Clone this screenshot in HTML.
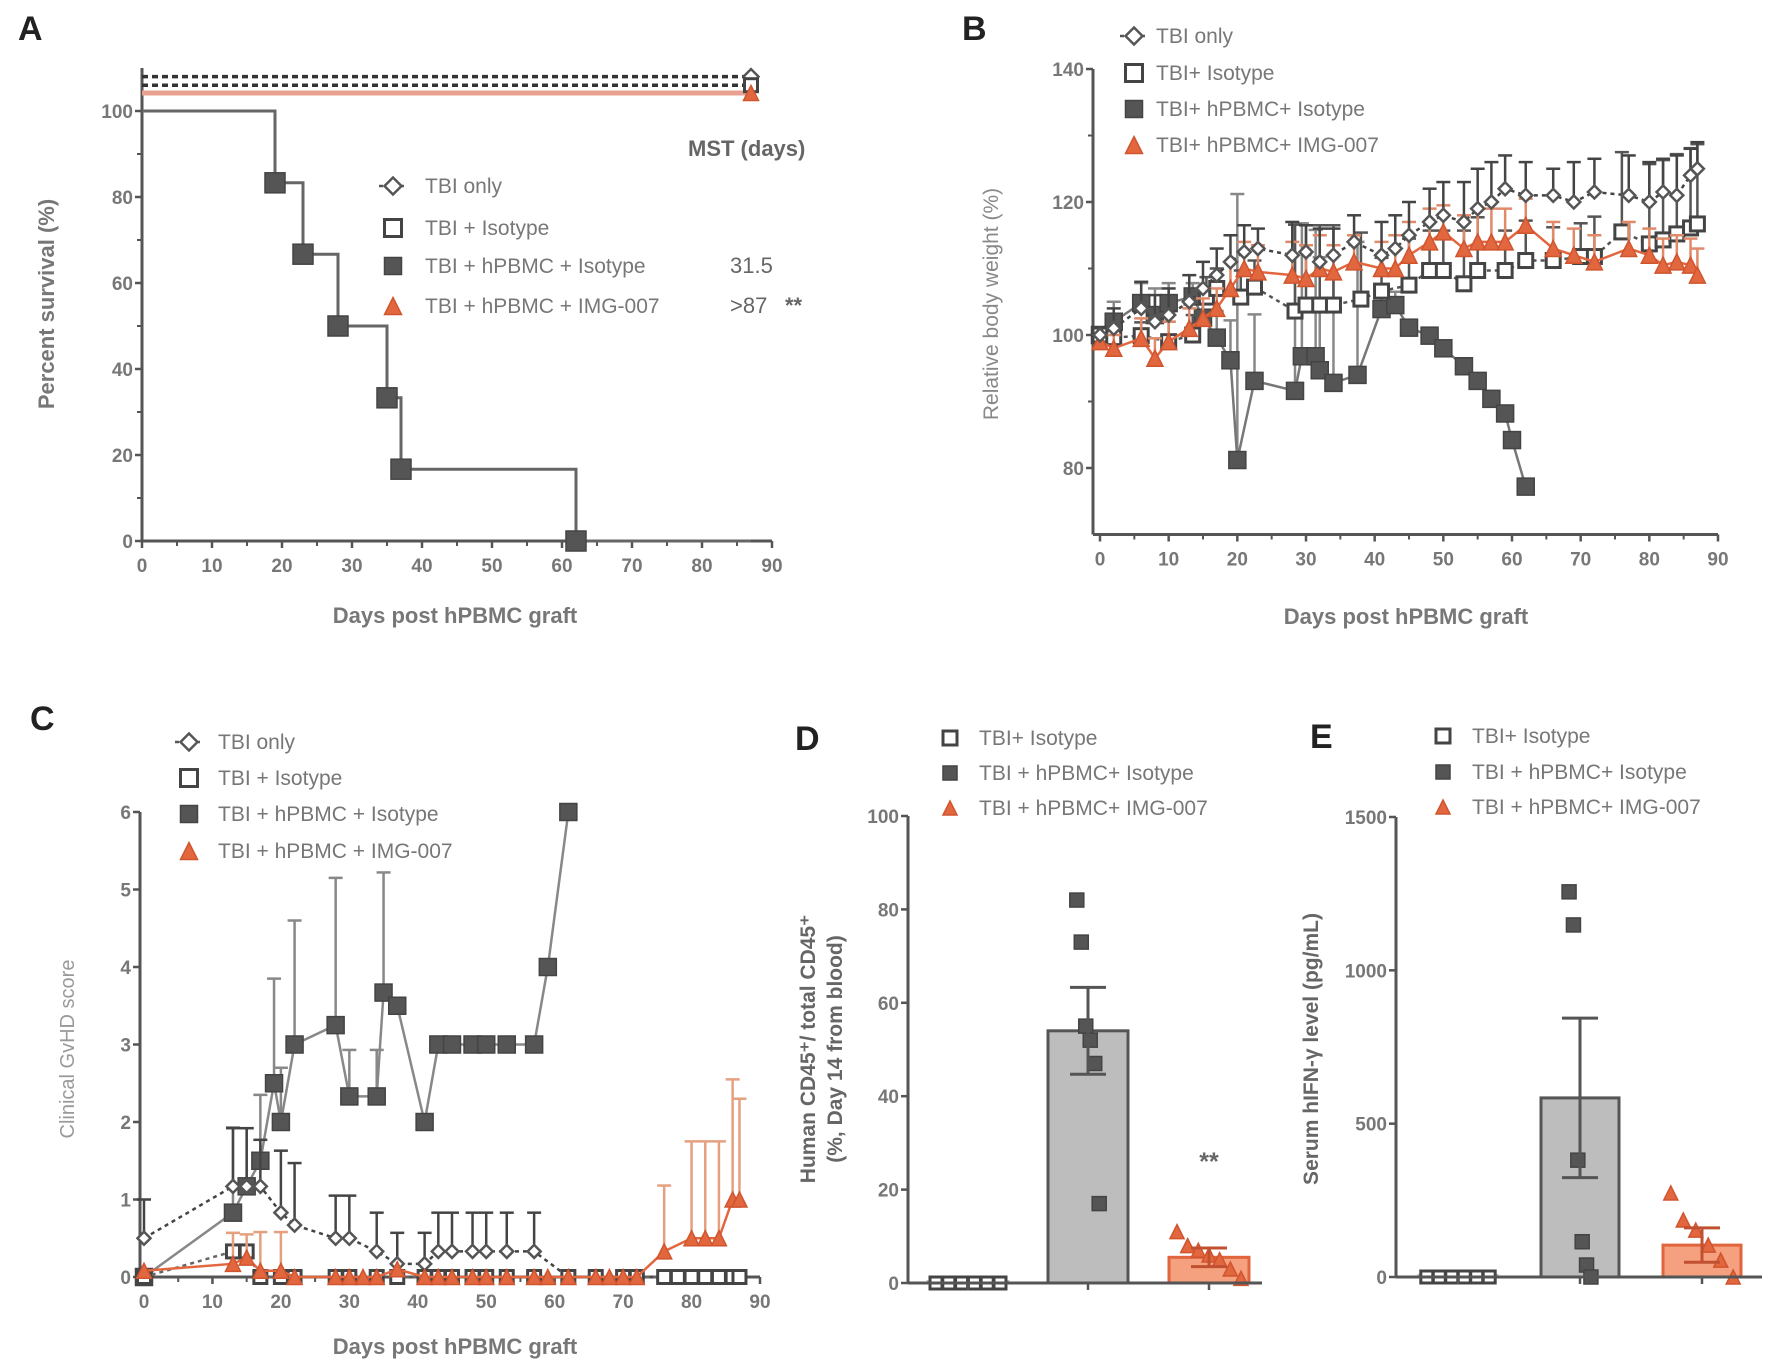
<!DOCTYPE html>
<html><head><meta charset="utf-8">
<style>
html,body{margin:0;padding:0;background:#fff;}
svg{display:block;font-family:"Liberation Sans",Arial,sans-serif;}
</style></head>
<body>
<svg id="fig" width="1769" height="1369" viewBox="0 0 1769 1369" xmlns="http://www.w3.org/2000/svg"></svg>
<script>
// ---------- Panel A data ----------
const aDays=[0,19,23,28,35,37,62,87];
const aSurv=[100,83.3,66.7,50,33.3,16.7,0,0];
const aTopLevels=[108,106,104.2];
const aXTicks=[0,10,20,30,40,50,60,70,80,90];
const aYTicks=[0,20,40,60,80,100];
// ---------- Panel B data ----------
const bPbmcDays=[0,2,6,8,10,13.5,15,17,19,20,22.5,28.4,29.4,31.4,32,34,37.5,41,43,45,48,50,53,55,57,59,60,62];
const bPbmcVals=[100,102,104.8,103,104.8,105.8,102.6,99.6,96.2,81.2,93.1,91.6,96.8,96.8,94.7,92.8,94,103.9,104.5,101.1,99.9,98,95.3,93.1,90.4,88.2,84.2,77.2];
const bPbmcErr=[0,3,3,4,3,2,3,4,6,40,10,25,20,19,17,16,20,3,2,0,0,0,0,0,0,0,0,0];
const bIsoDays=[0,2,6,10,13.5,15.5,17,20.5,22.5,28.4,30,32,34,38,41,45,48,50,53,55,59,62,66,70,72,76,80,82,84,86,87];
const bIsoVals=[100,99.6,99.9,99,100,105.7,107,105.7,107.2,103.6,104.5,104.5,104.5,105.4,106.6,107.5,109.7,109.7,107.7,109.7,109.7,111.2,111.2,111.8,111.8,115.5,113.7,114.3,115.2,116.1,116.7];
const bIsoErr=[0,2,2,3,3,3,3,4,4,13,12,12,12,10,5,7,6,6,8,8,6,6,5,5,6,12,12,12,12,12,12];
const bOnlyDays=[0,2,6,8,10,13,15,17,19,21,23,28,30,32,34,37,41,43,45,48,50,53,55,57,59,62,66,69,72,77,80,82,84,86,87];
const bOnlyVals=[100,101,104,102,103,105,107,109,111,112.5,113,112,112.5,111,112,114,112,113,115,117,118,117,119,120,122,121,121,120,121.5,121,120,121.5,121,124,125];
const bOnlyErr=[0,3,4,4,4,4,4,4,4,4,3,5,4,5,4,4,5,5,5,5,5,6,6,6,5,5,4,6,5,6,6,5,6,4,4];
const bImgDays=[0,2,6,8,10,13,15,17,19,21,23,28,30,32,34,37,41,43,45,48,50,53,55,57,59,62,66,69,72,77,80,82,84,86,87];
const bImgVals=[99,98,99.5,96.5,99,101,102.5,104,107,110,109.5,109,108.5,110,109.5,111,110,110,112,114,115.5,113,114,114,114,116.5,113,112,111,113,112,110.5,111,110.5,109];
const bImgErr=[0,2,3,3,3,3,3,3,4,4,4,5,5,5,4,4,4,5,5,5,4,5,5,5,5,4,4,4,4,4,4,4,4,4,4];
const bXTicks=[0,10,20,30,40,50,60,70,80,90];
const bYTicks=[80,100,120,140];
// ---------- Panel C data ----------
const cPbmcDays=[0,13,15,17,19,20,22,28,30,34,35,37,41,43,45,48,50,53,57,59,62];
const cPbmcVals=[0,0.83,1.17,1.5,2.5,2,3,3.25,2.33,2.33,3.67,3.5,2,3,3,3,3,3,3,4,6];
const cPbmcErr=[0,1.1,0.75,0.85,1.35,0.7,1.6,1.9,0.6,0.6,1.55,0,0,0,0,0,0,0,0,0,0];
const cOnlyDays=[0,13,15,17,20,22,28,30,34,37,41,43,45,48,50,53,57,62,66,70,72,76,78,80,82,84,86,87];
const cOnlyVals=[0.5,1.17,1.17,1.17,0.83,0.67,0.5,0.5,0.33,0.17,0.17,0.33,0.33,0.33,0.33,0.33,0.33,0,0,0,0,0,0,0,0,0,0,0];
const cOnlyErr=[0.5,0.75,0.75,0.6,0.8,0.8,0.55,0.55,0.5,0.4,0.4,0.5,0.5,0.5,0.5,0.5,0.5,0,0,0,0,0,0,0,0,0,0,0];
const cIsoDays=[0,13,15,17,20,22,28,30,34,37,41,43,45,48,50,53,57,62,66,70,72,76,78,80,82,84,86,87];
const cIsoVals=[0,0.33,0.33,0,0,0,0,0,0,0,0,0,0,0,0,0,0,0,0,0,0,0,0,0,0,0,0,0];
const cImgDays=[0,13,15,17,20,22,28,30,32,34,37,41,43,45,48,50,53,57,59,62,66,68,70,72,76,80,82,84,86,87];
const cImgVals=[0.08,0.17,0.25,0.08,0.08,0,0,0,0,0,0.1,0,0,0,0,0,0,0,0,0,0,0,0,0,0.33,0.5,0.5,0.5,1,1];
const cImgErr=[0,0.4,0.3,0.5,0.5,0,0,0,0,0,0,0,0,0,0,0,0,0,0,0,0,0,0,0,0.85,1.25,1.25,1.25,1.55,1.3];
const cXTicks=[0,10,20,30,40,50,60,70,80,90];
const cYTicks=[0,1,2,3,4,5,6];
// ---------- Panel D data ----------
const dMeans=[0.3,54,5.5];
const dSem=[0.2,9.3,2];
const dPts1=[0,0,0,0,0,0];
const dPts2=[82,73,55,52,47,17];
const dPts3=[11,8,7,6,5,3,1];
const dYTicks=[0,20,40,60,80,100];
// ---------- Panel E data ----------
const eMeans=[5,584,104];
const eSem=[3,260,56];
const ePts1=[0,0,0,0,0,0];
const ePts2=[1256,1148,381,115,39,0];
const ePts3=[274,186,153,104,55,0];
const eYTicks=[0,500,1000,1500];

const NS='http://www.w3.org/2000/svg';
const svg=document.getElementById('fig');
function el(tag,parent,o){const e=document.createElementNS(NS,tag);for(const k in o)e.setAttribute(k,o[k]);parent.appendChild(e);return e;}
function lin(d0,d1,r0,r1){return v=>r0+(v-d0)*(r1-r0)/(d1-d0);}
function txt(parent,x,y,s,o){const t=el('text',parent,Object.assign({x:x,y:y,'font-size':19,fill:'#666'},o||{}));t.textContent=s;return t;}
function grp(name){const g=el('g',svg,{});return g;}

function marker(parent,type,x,y,s){
  let m;
  if(type==='sq'){m=el('rect',parent,{x:x-s/2,y:y-s/2,width:s,height:s,fill:'#555',stroke:'#444','stroke-width':1.5});}
  else if(type==='osq'){m=el('rect',parent,{x:x-s/2,y:y-s/2,width:s,height:s,fill:'#fff',stroke:'#444','stroke-width':3});}
  else if(type==='dia'){m=el('path',parent,{d:`M${x} ${y-s/2}L${x+s/2} ${y}L${x} ${y+s/2}L${x-s/2} ${y}Z`,fill:'#fff',stroke:'#555','stroke-width':2.5});}
  else {m=el('path',parent,{d:`M${x} ${y-s/2}L${x+s/2} ${y+s/2}L${x-s/2} ${y+s/2}Z`,fill:'#e2673f',stroke:'#d0552e','stroke-width':1.5});}
  
  
  return m;
}
function yAxis(g,x,yTop,yBot,ticks,ys,fmt){
  el('line',g,{x1:x,y1:yTop,x2:x,y2:yBot,stroke:'#555','stroke-width':3});
  ticks.forEach(t=>{el('line',g,{x1:x-7,y1:ys(t),x2:x,y2:ys(t),stroke:'#555','stroke-width':2.5});
    const l=txt(g,x-9,ys(t)+7,fmt?fmt(t):String(t),{'text-anchor':'end','font-weight':'bold',fill:'#777'});
    });
}
function xAxis(g,y,x0,x1,ticks,xs){
  el('line',g,{x1:x0,y1:y,x2:x1,y2:y,stroke:'#555','stroke-width':3});
  ticks.forEach(t=>{el('line',g,{x1:xs(t),y1:y,x2:xs(t),y2:y+7,stroke:'#555','stroke-width':2.5});
    if(t<90) el('line',g,{x1:xs(t+5),y1:y,x2:xs(t+5),y2:y+5,stroke:'#555','stroke-width':2});
    const l=txt(g,xs(t),y+31,String(t),{'text-anchor':'middle','font-weight':'bold',fill:'#777'});
    });
}
function legend(g,items,mx,tx,ys,size){
  items.forEach((it,i)=>{
    if(it.line) el('line',g,{x1:mx-14,y1:ys[i],x2:mx+14,y2:ys[i],stroke:it.line,'stroke-width':2.5,'stroke-dasharray':it.dash||''});
    marker(g,it.m,mx,ys[i],size);
    const t=txt(g,tx,ys[i]+7,it.t,{'font-size':21,fill:'#777'});
    
  });
}
function series(g,days,vals,errs,xs,ys,type,col,dash,size,errCol){
  if(errs) days.forEach((d,i)=>{if(errs[i]>0){const x=xs(d),y0=ys(vals[i]),y1=ys(vals[i]+errs[i]);
    el('line',g,{x1:x,y1:y0,x2:x,y2:y1,stroke:errCol||col,'stroke-width':2.5});
    el('line',g,{x1:x-7,y1:y1,x2:x+7,y2:y1,stroke:errCol||col,'stroke-width':2.5});}});
  const p=el('polyline',g,{points:days.map((d,i)=>xs(d)+','+ys(vals[i])).join(' '),fill:'none',stroke:col,'stroke-width':2.5,'stroke-dasharray':dash||''});
  
  days.forEach((d,i)=>marker(g,type,xs(d),ys(vals[i]),size));
}

// ================= Panel A =================
(function(){
  const g=grp('panel-a');
  const xs=lin(0,90,142,772), ys=lin(0,100,541,111);
  txt(g,18,40,'A',{'font-size':34,'font-weight':'bold',fill:'#222'});
  yAxis(g,142,68,541,aYTicks,ys);
  [10,30,50,70,90].forEach(t=>el('line',g,{x1:137,y1:ys(t),x2:142,y2:ys(t),stroke:'#555','stroke-width':2}));
  xAxis(g,541,142,772,aXTicks,xs);
  const tl=[{c:'#333',d:'6,4'},{c:'#333',d:'6,4'},{c:'#e8a090',d:''}];
  aTopLevels.forEach((v,i)=>{el('line',g,{x1:142,y1:ys(v),x2:xs(87),y2:ys(v),stroke:tl[i].c,'stroke-width':tl[i].d?3.5:5,'stroke-dasharray':tl[i].d});});
  marker(g,'dia',xs(87),ys(aTopLevels[0]),15);marker(g,'osq',xs(87),ys(aTopLevels[1]),13);marker(g,'tri',xs(87),ys(aTopLevels[2]),15);
  let d=`M${xs(aDays[0])} ${ys(aSurv[0])}`;
  for(let i=1;i<aDays.length;i++){d+=`H${xs(aDays[i])}V${ys(aSurv[i])}`;}
  const p=el('path',g,{d:d,fill:'none',stroke:'#666','stroke-width':3});
  
  for(let i=1;i<aDays.length-1;i++) marker(g,'sq',xs(aDays[i]),ys(aSurv[i]),20);
  txt(g,688,156,'MST (days)',{'font-size':22,fill:'#666','font-weight':'bold'});
  legend(g,[{m:'dia',t:'TBI only',line:'#555',dash:'4,3'},{m:'osq',t:'TBI + Isotype'},{m:'sq',t:'TBI + hPBMC + Isotype'},{m:'tri',t:'TBI + hPBMC + IMG-007'}],393,425,[186,228,266,306],17);
  txt(g,730,273,'31.5',{'font-size':22,fill:'#666'});
  txt(g,730,313,'>87',{'font-size':22,fill:'#666'});
  txt(g,785,313,'**',{'font-size':22,fill:'#666','font-weight':'bold'});
  const yt=txt(g,0,0,'Percent survival (%)',{'font-size':22,fill:'#777','font-weight':'bold','text-anchor':'middle',transform:'translate(54,304) rotate(-90)'});
  
  const xt=txt(g,455,623,'Days post hPBMC graft',{'font-size':22,fill:'#777','font-weight':'bold','text-anchor':'middle'});
  
})();

// ================= Panel B =================
(function(){
  const g=grp('panel-b');
  const xs=lin(0,90,1100,1718), ys=lin(100,120,335,202);
  txt(g,962,40,'B',{'font-size':34,'font-weight':'bold',fill:'#222'});
  yAxis(g,1093,ys(140),ys(70),bYTicks,ys);
  [90,110,130].forEach(t=>el('line',g,{x1:1088,y1:ys(t),x2:1093,y2:ys(t),stroke:'#555','stroke-width':2}));
  xAxis(g,ys(70),1093,1718,bXTicks,xs);
  series(g,bPbmcDays,bPbmcVals,bPbmcErr,xs,ys,'sq','#777','',17,'#888');
  series(g,bIsoDays,bIsoVals,bIsoErr,xs,ys,'osq','#555','4,4',14,'#555');
  series(g,bImgDays,bImgVals,bImgErr,xs,ys,'tri','#e2673f','',16,'#e08a6a');
  series(g,bOnlyDays,bOnlyVals,bOnlyErr,xs,ys,'dia','#444','4,4',13,'#444');
  legend(g,[{m:'dia',t:'TBI only',line:'#555',dash:'4,3'},{m:'osq',t:'TBI+ Isotype'},{m:'sq',t:'TBI+ hPBMC+ Isotype'},{m:'tri',t:'TBI+ hPBMC+ IMG-007'}],1134,1156,[36,73,109,145],17);
  const yt=txt(g,0,0,'Relative body weight (%)',{'font-size':21,fill:'#888','text-anchor':'middle',transform:'translate(998,304) rotate(-90)'});
  
  const xt=txt(g,1406,624,'Days post hPBMC graft',{'font-size':22,fill:'#777','font-weight':'bold','text-anchor':'middle'});
  
})();

// ================= Panel C =================
(function(){
  const g=grp('panel-c');
  const xs=lin(0,90,144,760), ys=lin(0,6,1277,812);
  txt(g,30,730,'C',{'font-size':34,'font-weight':'bold',fill:'#222'});
  yAxis(g,140,812,1277,cYTicks,ys);
  xAxis(g,1277,140,760,cXTicks,xs);
  series(g,cPbmcDays,cPbmcVals,cPbmcErr,xs,ys,'sq','#888','',17,'#888');
  series(g,cOnlyDays,cOnlyVals,cOnlyErr,xs,ys,'dia','#444','4,4',13,'#444');
  series(g,cIsoDays,cIsoVals,null,xs,ys,'osq','#666','4,4',13);
  series(g,cImgDays,cImgVals,cImgErr,xs,ys,'tri','#e2673f','',15,'#e5a080');
  legend(g,[{m:'dia',t:'TBI only',line:'#555',dash:'4,3'},{m:'osq',t:'TBI + Isotype'},{m:'sq',t:'TBI + hPBMC + Isotype'},{m:'tri',t:'TBI + hPBMC + IMG-007'}],189,218,[742,778,814,851],17);
  const yt=txt(g,0,0,'Clinical GvHD score',{'font-size':20,fill:'#999','text-anchor':'middle',transform:'translate(74,1049) rotate(-90)'});
  
  const xt=txt(g,455,1354,'Days post hPBMC graft',{'font-size':22,fill:'#777','font-weight':'bold','text-anchor':'middle'});
  
})();

// ================= Bar panels =================
function barPanel(name,label,lx,ax,axRight,ys,yTicks,means,sems,pts,centers,bw,legX,legYs,ytitle,ytx){
  const g=grp(name);
  txt(g,lx,legYs[0]+12,label,{'font-size':34,'font-weight':'bold',fill:'#222'});
  const y0=ys(0);
  const fills=['#e8e8e8','#bdbdbd','#f5a07e'], strokes=['#bbb','#555','#e0643c'], types=['osq','sq','tri'];
  means.forEach((m,i)=>{
    const r=el('rect',g,{x:centers[i]-bw/2,y:ys(m),width:bw,height:y0-ys(m),fill:fills[i],stroke:strokes[i],'stroke-width':3});
    
    
  });
  pts.forEach((arr,i)=>{arr.forEach((v,j)=>{const off=(j-(arr.length-1)/2)*(bw*0.8/Math.max(arr.length-1,1))*(i===1?0.35:1);
    marker(g,types[i],centers[i]+off,ys(v),i===0?12:14);});});
  sems.forEach((s,i)=>{if(i===0)return;const c=centers[i],col=i===2?'#c05030':'#555';
    el('line',g,{x1:c,y1:ys(means[i]-s),x2:c,y2:ys(means[i]+s),stroke:col,'stroke-width':3});
    [means[i]-s,means[i]+s].forEach(v=>el('line',g,{x1:c-18,y1:ys(v),x2:c+18,y2:ys(v),stroke:col,'stroke-width':3}));});
  yAxis(g,ax,ys(yTicks[yTicks.length-1]),y0,yTicks,ys);
  el('line',g,{x1:ax,y1:y0,x2:axRight,y2:y0,stroke:'#555','stroke-width':3});
  centers.forEach(c=>el('line',g,{x1:c,y1:y0,x2:c,y2:y0+7,stroke:'#555','stroke-width':2.5}));
  legend(g,[{m:'osq',t:'TBI+ Isotype'},{m:'sq',t:'TBI + hPBMC+ Isotype'},{m:'tri',t:'TBI + hPBMC+ IMG-007'}],legX,legX+29,legYs,14);
  ytitle.forEach((t,i)=>{const e=txt(g,0,0,t,{'font-size':21,fill:'#666','font-weight':'bold','text-anchor':'middle',transform:`translate(${ytx[i]},1049) rotate(-90)`});
    });
  return g;
}
const gD=barPanel('panel-d','D',795,908,1262,lin(0,100,1283,816),dYTicks,dMeans,dSem,[dPts1,dPts2,dPts3],[968,1088,1209],80,950,[738,773,808],['Human CD45\u207A/ total CD45\u207A','(%, Day 14 from blood)'],[815,842]);
txt(gD,1209,1170,'**',{'font-size':25,fill:'#666','text-anchor':'middle','font-weight':'bold'});
barPanel('panel-e','E',1310,1396,1762,lin(0,1500,1277,817),eYTicks,eMeans,eSem,[ePts1,ePts2,ePts3],[1458,1580,1702],78,1443,[736,772,807],['Serum hIFN-\u03B3 level (pg/mL)'],[1318]);
</script>
</body></html>
